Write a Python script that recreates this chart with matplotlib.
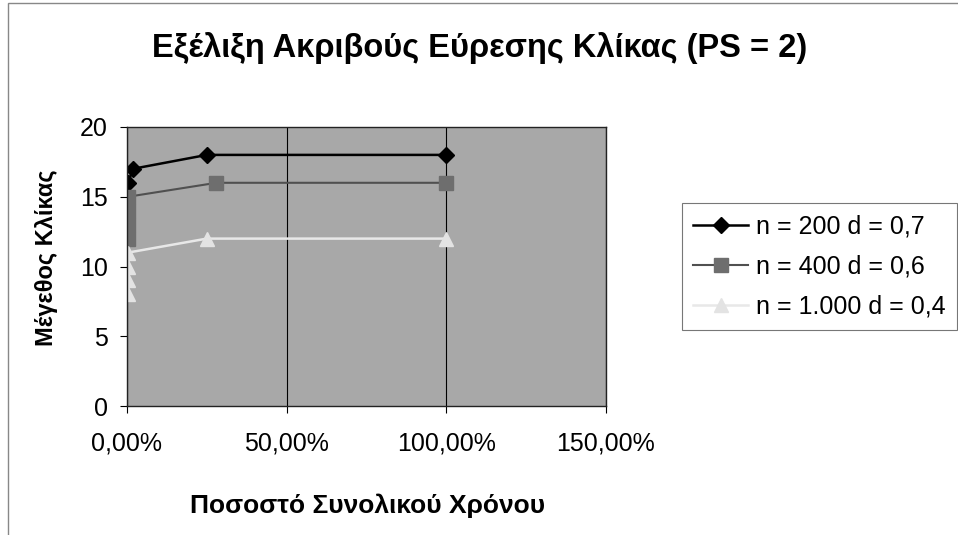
import matplotlib
matplotlib.use("Agg")
import matplotlib.pyplot as plt
from matplotlib.ticker import FuncFormatter, MultipleLocator
from matplotlib.patches import Rectangle

plt.rcParams['font.family'] = ['Liberation Sans', 'DejaVu Sans']

# fraction of total time (1.0 = 100%) vs clique size found
x_200 = [0.004, 0.018, 0.25, 1.0]
y_200 = [16, 17, 18, 18]

x_400 = [0.003, 0.003, 0.003, 0.003, 0.28, 1.0]
y_400 = [12, 13, 14, 15, 16, 16]

x_1000 = [0.004, 0.004, 0.004, 0.004, 0.25, 1.0]
y_1000 = [8, 9, 10, 11, 12, 12]

labels = ["n = 200 d = 0,7", "n = 400 d = 0,6", "n = 1.000 d = 0,4"]

W, H = 958, 535
fig = plt.figure(figsize=(W / 100, H / 100), dpi=100)
ax = fig.add_axes([127 / W, 1 - 406 / H, 479 / W, 279 / H])
ax.set_facecolor('#a8a8a8')

ax.plot(x_200, y_200, color='black', lw=1.8, marker='D', ms=8,
        markerfacecolor='black', markeredgecolor='black', label=labels[0])
ax.plot(x_400, y_400, color='#505050', lw=1.5, marker='s', ms=9.5,
        markerfacecolor='#6e6e6e', markeredgecolor='#6e6e6e', label=labels[1])
ax.plot(x_1000, y_1000, color='#e8e8e8', lw=1.8, marker='^', ms=9.5,
        markerfacecolor='#e3e3e3', markeredgecolor='#e3e3e3', label=labels[2])

ax.set_xlim(0, 1.5)
ax.set_ylim(0, 20)
ax.xaxis.set_major_locator(MultipleLocator(0.5))
ax.yaxis.set_major_locator(MultipleLocator(5))
ax.xaxis.set_major_formatter(FuncFormatter(lambda v, p: f"{v*100:.2f}%".replace('.', ',')))
ax.grid(axis='x', color='black', lw=0.8)
ax.set_axisbelow(True)
for s in ax.spines.values():
    s.set_color('#222222')
    s.set_linewidth(1.0)
ax.tick_params(axis='both', direction='out', length=5, width=0.8, labelsize=18, pad=9)
ax.tick_params(axis='x', pad=13)

# axis titles placed directly in figure pixels
fig.text(368 / W, 1 - 506 / H, "Ποσοστό Συνολικού Χρόνου",
         ha='center', va='center', fontsize=19, fontweight='bold')
fig.text(47 / W, 1 - 258 / H, "Μέγεθος Κλίκας", rotation=90,
         ha='center', va='center', fontsize=17, fontweight='bold')

fig.text(480 / W, 1 - 48 / H, "Εξέλιξη Ακριβούς Εύρεσης Κλίκας (PS = 2)",
         ha='center', va='center', fontsize=23.5, fontweight='bold')

leg = fig.legend(loc='upper left', bbox_to_anchor=(682 / W, 1 - 203 / H), fontsize=18,
                 frameon=True, fancybox=False, edgecolor='#555555',
                 handlelength=2.2, handletextpad=0.3, labelspacing=0.64,
                 borderpad=0.45, borderaxespad=0)
leg.get_frame().set_linewidth(0.8)

# outer chart border
fig.patches.append(Rectangle((0.008, -0.01), 1.0, 1.004, transform=fig.transFigure,
                             fill=False, edgecolor='#888888', lw=1.0))

fig.savefig("out.png", dpi=100)
